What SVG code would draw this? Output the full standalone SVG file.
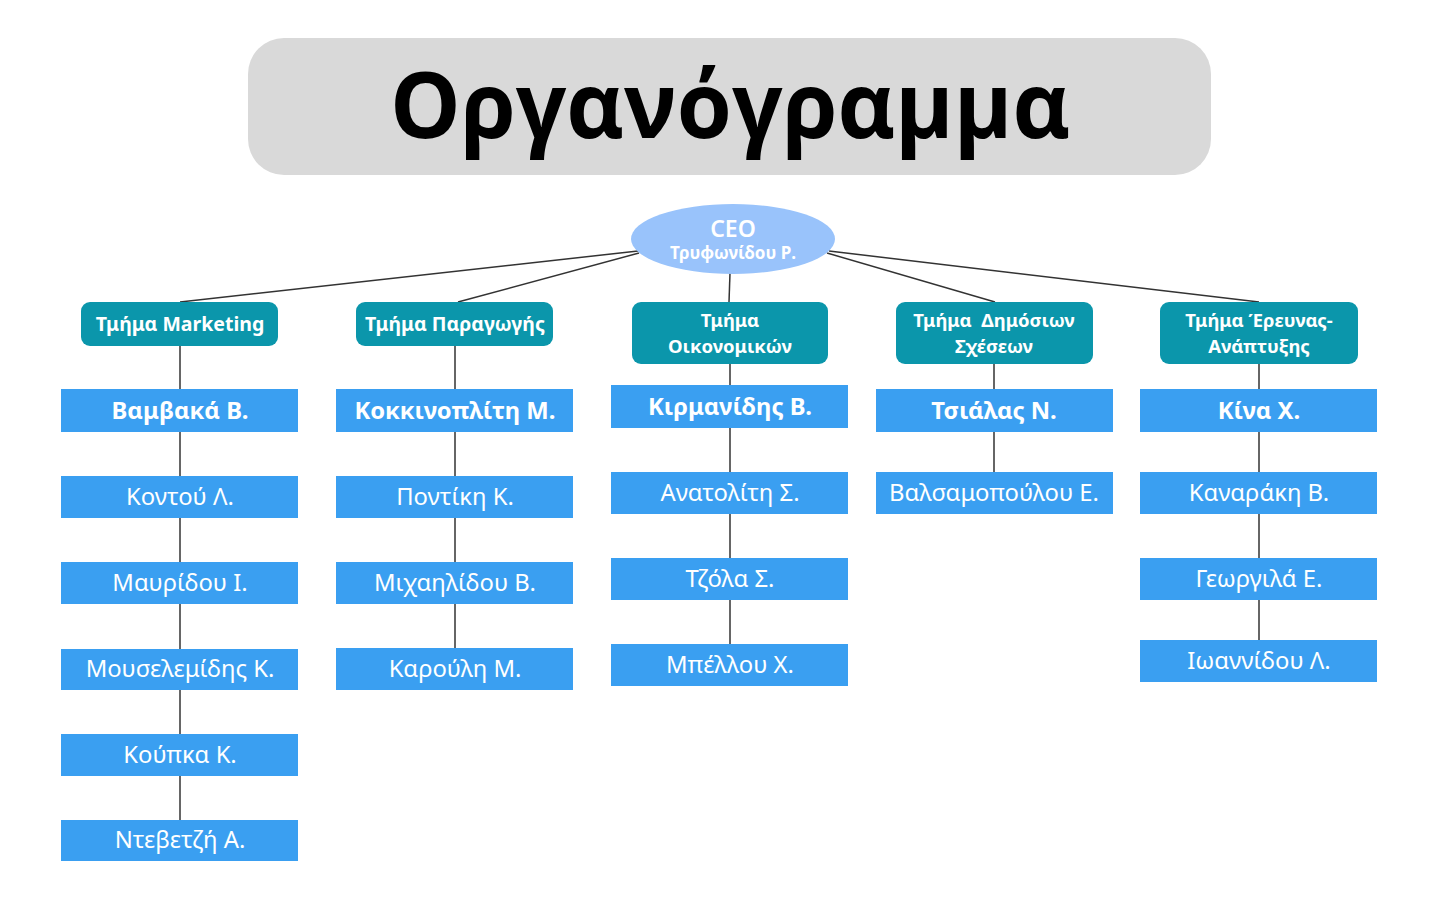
<svg xmlns="http://www.w3.org/2000/svg" width="1440" height="902" viewBox="0 0 1440 902">
<style>
.dept{fill:#0b96ab}
.pers{fill:#3a9ff1}
.dt{font-family:"Noto Sans","Open Sans",sans-serif;font-weight:bold;font-size:19.5px;fill:#fff;text-anchor:middle}
.d2{font-size:18.5px}
.pt{font-family:"Noto Sans","Open Sans",sans-serif;font-size:23.8px;fill:#fff;text-anchor:middle}
.pb{font-weight:bold}
.ln{stroke:#333;stroke-width:1.5;fill:none}
</style>
<rect width="1440" height="902" fill="#fff"/>
<g id="title">
<rect x="248" y="38" width="963" height="137" rx="36" fill="#d9d9d9"/>
<text x="730" y="138" font-family="'Open Sans','Noto Sans',sans-serif" font-weight="bold" font-size="92" text-anchor="middle" fill="#000" textLength="680" lengthAdjust="spacingAndGlyphs">Οργανόγραμμα</text>
</g>
<g id="connectors" class="ln">
<line x1="638" y1="251" x2="180" y2="302"/>
<line x1="639" y1="253" x2="458" y2="302"/>
<line x1="730" y1="273" x2="729" y2="302"/>
<line x1="827" y1="253" x2="995" y2="302"/>
<line x1="829" y1="251" x2="1259" y2="302"/>
<line x1="180" y1="346" x2="180" y2="820"/>
<line x1="455" y1="346" x2="455" y2="648"/>
<line x1="730" y1="364" x2="730" y2="644"/>
<line x1="994" y1="364" x2="994" y2="472"/>
<line x1="1259" y1="364" x2="1259" y2="640"/>
</g>
<g id="ceo">
<ellipse cx="733" cy="239" rx="102" ry="35" fill="#99c3fb"/>
<text x="733" y="237" font-family="'Noto Sans',sans-serif" font-weight="600" font-size="23" fill="#fff" text-anchor="middle">CEO</text>
<text x="733" y="259" class="dt" style="font-size:17px">Τρυφωνίδου Ρ.</text>
</g>
<g id="dept-marketing"><rect class="dept" x="81" y="302" width="197" height="44" rx="9"/><text class="dt" x="180" y="331">Τμήμα Marketing</text></g>
<g id="dept-production"><rect class="dept" x="356" y="302" width="197" height="44" rx="9"/><text class="dt" x="455" y="331">Τμήμα Παραγωγής</text></g>
<g id="dept-finance"><rect class="dept" x="632" y="302" width="196" height="62" rx="9"/><text class="dt d2" x="730" y="327">Τμήμα</text><text class="dt d2" x="730" y="353">Οικονομικών</text></g>
<g id="dept-pr"><rect class="dept" x="896" y="302" width="197" height="62" rx="9"/><text class="dt d2" x="994" y="327" xml:space="preserve">Τμήμα  Δημόσιων</text><text class="dt d2" x="994" y="353">Σχέσεων</text></g>
<g id="dept-rnd"><rect class="dept" x="1160" y="302" width="198" height="62" rx="9"/><text class="dt d2" x="1259" y="327">Τμήμα Έρευνας-</text><text class="dt d2" x="1259" y="353">Ανάπτυξης</text></g>

<g id="p-vamvaka"><rect class="pers" x="61" y="389" width="237" height="43"/><text class="pt pb" x="180" y="419">Βαμβακά Β.</text></g>
<g id="p-kontou"><rect class="pers" x="61" y="476" width="237" height="42"/><text class="pt" x="180" y="505">Κοντού Λ.</text></g>
<g id="p-mavridou"><rect class="pers" x="61" y="562" width="237" height="42"/><text class="pt" x="180" y="591">Μαυρίδου Ι.</text></g>
<g id="p-mouselemidis"><rect class="pers" x="61" y="649" width="237" height="41"/><text class="pt" x="180" y="677">Μουσελεμίδης Κ.</text></g>
<g id="p-koupka"><rect class="pers" x="61" y="734" width="237" height="42"/><text class="pt" x="180" y="763">Κούπκα Κ.</text></g>
<g id="p-ntevetzi"><rect class="pers" x="61" y="820" width="237" height="41"/><text class="pt" x="180" y="848">Ντεβετζή Α.</text></g>

<g id="p-kokkinopliti"><rect class="pers" x="336" y="389" width="237" height="43"/><text class="pt pb" x="455" y="419">Κοκκινοπλίτη Μ.</text></g>
<g id="p-pontiki"><rect class="pers" x="336" y="476" width="237" height="42"/><text class="pt" x="455" y="505">Ποντίκη Κ.</text></g>
<g id="p-michailidou"><rect class="pers" x="336" y="562" width="237" height="42"/><text class="pt" x="455" y="591">Μιχαηλίδου Β.</text></g>
<g id="p-karouli"><rect class="pers" x="336" y="648" width="237" height="42"/><text class="pt" x="455" y="677">Καρούλη Μ.</text></g>

<g id="p-kirmanidis"><rect class="pers" x="611" y="385" width="237" height="43"/><text class="pt pb" x="730" y="415">Κιρμανίδης Β.</text></g>
<g id="p-anatoliti"><rect class="pers" x="611" y="472" width="237" height="42"/><text class="pt" x="730" y="501">Ανατολίτη Σ.</text></g>
<g id="p-tzola"><rect class="pers" x="611" y="558" width="237" height="42"/><text class="pt" x="730" y="587">Τζόλα Σ.</text></g>
<g id="p-mpellou"><rect class="pers" x="611" y="644" width="237" height="42"/><text class="pt" x="730" y="673">Μπέλλου Χ.</text></g>

<g id="p-tsialas"><rect class="pers" x="876" y="389" width="237" height="43"/><text class="pt pb" x="994" y="419">Τσιάλας Ν.</text></g>
<g id="p-valsamopoulou"><rect class="pers" x="876" y="472" width="237" height="42"/><text class="pt" x="994" y="501">Βαλσαμοπούλου Ε.</text></g>

<g id="p-kina"><rect class="pers" x="1140" y="389" width="237" height="43"/><text class="pt pb" x="1259" y="419">Κίνα Χ.</text></g>
<g id="p-kanaraki"><rect class="pers" x="1140" y="472" width="237" height="42"/><text class="pt" x="1259" y="501">Καναράκη Β.</text></g>
<g id="p-georgila"><rect class="pers" x="1140" y="558" width="237" height="42"/><text class="pt" x="1259" y="587">Γεωργιλά Ε.</text></g>
<g id="p-ioannidou"><rect class="pers" x="1140" y="640" width="237" height="42"/><text class="pt" x="1259" y="669">Ιωαννίδου Λ.</text></g>
</svg>
